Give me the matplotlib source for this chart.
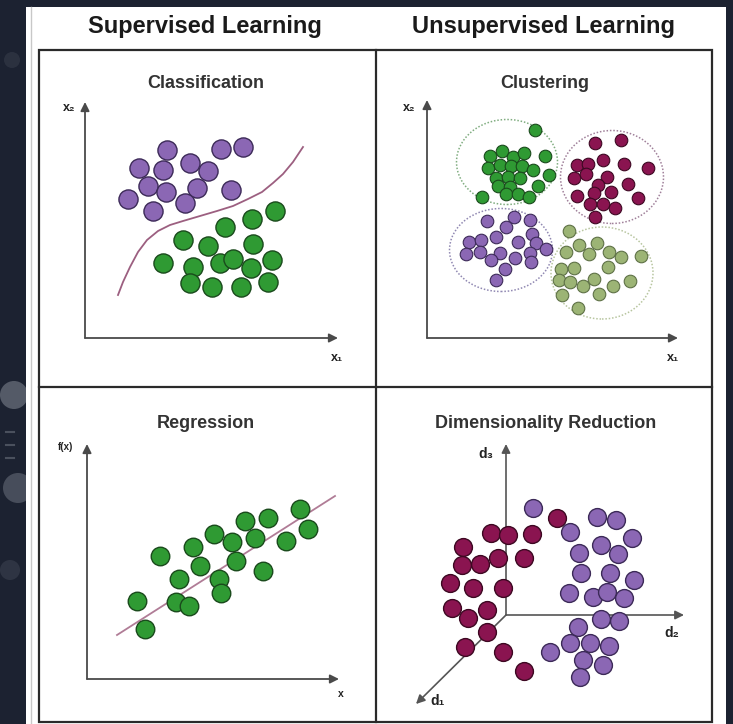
import matplotlib
matplotlib.use('Agg')
import matplotlib.pyplot as plt
from matplotlib.patches import Rectangle, Ellipse, Circle

W, H = 733, 724
DPI = 100

# ---------------- data (units = pixels from each panel's axis origin) ----------------
headers = ["Supervised Learning", "Unsupervised Learning"]
panel_titles = ["Classification", "Clustering", "Regression", "Dimensionality Reduction"]

cls_purple_x = [82, 136, 158, 54, 78, 105, 123, 63, 81, 112, 146, 43, 68, 100]
cls_purple_y = [188, 189, 191, 170, 168, 175, 167, 152, 146, 150, 148, 139, 127, 135]
cls_green_x = [190, 167, 140, 98, 123, 168, 78, 108, 135, 148, 166, 187, 105, 127, 156, 183]
cls_green_y = [127, 119, 111, 98, 92, 94, 75, 71, 75, 79, 70, 78, 55, 51, 51, 56]
cls_boundary_x = [33, 38, 45, 53, 62, 73, 85, 98, 115, 132, 148, 163, 177, 188, 198, 208, 218]
cls_boundary_y = [43, 56, 71, 86, 98, 107, 113, 117, 122, 127, 132, 139, 146, 155, 164, 176, 191]

clu_green_x = [108, 63, 75, 86, 97, 118, 61, 73, 84, 95, 106, 122, 69, 81, 93, 111, 71, 83, 55, 79, 91, 102]
clu_green_y = [208, 182, 187, 181, 185, 182, 170, 173, 172, 172, 168, 163, 160, 161, 160, 152, 152, 151, 141, 144, 144, 141]
clu_maroon_x = [168, 194, 150, 161, 176, 197, 221, 147, 159, 180, 171, 201, 150, 167, 184, 211, 163, 176, 188, 168]
clu_maroon_y = [195, 198, 173, 174, 178, 174, 170, 160, 164, 161, 153, 154, 142, 145, 146, 140, 134, 134, 130, 121]
clu_purple_x = [60, 87, 103, 79, 105, 42, 54, 69, 91, 109, 119, 39, 53, 73, 88, 103, 64, 104, 78, 69]
clu_purple_y = [117, 121, 118, 111, 104, 96, 98, 101, 96, 95, 89, 84, 86, 85, 80, 85, 78, 76, 69, 58]
clu_olive_x = [142, 152, 170, 139, 162, 182, 194, 214, 134, 147, 181, 132, 143, 156, 167, 186, 203, 135, 172, 151]
clu_olive_y = [107, 93, 95, 86, 84, 86, 81, 82, 69, 70, 71, 58, 56, 52, 59, 52, 57, 43, 44, 30]
clu_ellipse_cx = [80, 185, 74, 175]
clu_ellipse_cy = [176, 161, 88, 65]
clu_ellipse_w = [101, 103, 103, 102]
clu_ellipse_h = [85, 93, 83, 92]

reg_x = [73, 50, 58, 92, 89, 102, 106, 113, 127, 132, 134, 145, 149, 158, 168, 181, 176, 199, 213, 221]
reg_y = [123, 78, 50, 100, 77, 73, 132, 113, 145, 100, 86, 137, 118, 158, 141, 161, 108, 138, 170, 150]
reg_line_x = [30, 248]
reg_line_y = [44, 183]

dim_maroon_x = [51, -15, 2, 26, -43, -8, 18, -44, -26, -56, -33, -3, -54, -38, -19, -19, -41, -3, 18]
dim_maroon_y = [97, 82, 80, 81, 68, 57, 57, 50, 51, 32, 27, 27, 7, -3, 5, -17, -32, -37, -56]
dim_purple_x = [27, 91, 110, 64, 126, 73, 95, 112, 75, 104, 128, 63, 87, 101, 118, 72, 95, 113, 64, 84, 103, 44, 77, 97, 74]
dim_purple_y = [107, 98, 95, 83, 77, 62, 70, 61, 42, 42, 35, 22, 18, 23, 17, -12, -4, -6, -28, -28, -31, -37, -45, -50, -62]

# ---------------- styles ----------------
PURPLE, PURPLE_E = '#8b67b4', '#3c2a58'
GREEN, GREEN_E = '#2f9a33', '#1a4a1c'
MAROON, MAROON_E = '#8a1450', '#3d0822'
OLIVE, OLIVE_E = '#9cb475', '#5e7146'
AXC = '#4a4a4a'
FONT = ['Liberation Sans', 'DejaVu Sans']

fig = plt.figure(figsize=(W / DPI, H / DPI), dpi=DPI)
fig.patch.set_facecolor('#1c2231')

base = fig.add_axes([0, 0, 1, 1])
base.set_xlim(0, W)
base.set_ylim(H, 0)
base.axis('off')

# background bokeh
for (cx, cy, r, a) in [(14, 395, 14, 0.45), (18, 488, 15, 0.35), (10, 570, 10, 0.15), (12, 60, 8, 0.12)]:
    base.add_patch(Circle((cx, cy), r, color='#9aa0aa', alpha=a, lw=0))
for yy in [432, 445, 458]:
    base.plot([6, 14], [yy, yy], color='#6a707c', lw=1.5, alpha=0.6)

# white sheet
base.add_patch(Rectangle((26, 7), 700, 720, facecolor='white', edgecolor='none'))
base.plot([31, 31], [7, 724], color='#c8c8c8', lw=1.0)

# grid
base.add_patch(Rectangle((39, 50), 673, 672, facecolor='none', edgecolor='#2a2a2a', lw=1.6))
base.plot([376, 376], [50, 722], color='#2a2a2a', lw=1.6)
base.plot([39, 712], [387, 387], color='#2a2a2a', lw=1.6)

base.text(205, 26, headers[0], ha='center', va='center', fontsize=17, fontweight='bold',
          family=FONT, color='#1a1a1a')
base.text(543, 26, headers[1], ha='center', va='center', fontsize=17, fontweight='bold',
          family=FONT, color='#1a1a1a')

title_pos = [(206, 83), (545, 83), (206, 424), (546, 424)]
for t, (tx, ty) in zip(panel_titles, title_pos):
    base.text(tx, ty, t, ha='center', va='center', fontsize=13, fontweight='bold',
              family=FONT, color='#333333')

# axis labels
lab = dict(ha='center', va='center', fontweight='bold', family=FONT, color='#222222')
base.text(69, 108, 'x₂', fontsize=9, **lab)
base.text(337, 358, 'x₁', fontsize=9, **lab)
base.text(409, 108, 'x₂', fontsize=9, **lab)
base.text(673, 358, 'x₁', fontsize=9, **lab)
base.text(66, 447, 'f(x)', fontsize=7, **lab)
base.text(341, 694, 'x', fontsize=7.5, **lab)
base.text(486, 454, 'd₃', fontsize=10, **lab)
base.text(672, 633, 'd₂', fontsize=10, **lab)
base.text(438, 701, 'd₁', fontsize=10, **lab)


def make_panel(cell, origin):
    x0, y0, x1, y1 = cell
    ox, oy = origin
    ax = fig.add_axes([x0 / W, 1 - y1 / H, (x1 - x0) / W, (y1 - y0) / H])
    ax.set_xlim(x0 - ox, x1 - ox)
    ax.set_ylim(oy - y1, oy - y0)
    ax.axis('off')
    return ax


def arrow(ax, start, end, color=AXC, lw=1.3):
    ax.annotate('', xy=end, xytext=start,
                arrowprops=dict(arrowstyle='-|>', color=color, lw=lw,
                                mutation_scale=13, shrinkA=0, shrinkB=0), zorder=1)


# ---- Classification ----
ax1 = make_panel((39, 50, 376, 387), (85, 338))
arrow(ax1, (0, 0), (253, 0))
arrow(ax1, (0, 0), (0, 236))
ax1.plot(cls_boundary_x, cls_boundary_y, color='#9c5f80', lw=1.3, zorder=2)
ax1.scatter(cls_purple_x, cls_purple_y, s=190, c=PURPLE, edgecolors=PURPLE_E, linewidths=1, zorder=3)
ax1.scatter(cls_green_x, cls_green_y, s=190, c=GREEN, edgecolors=GREEN_E, linewidths=1, zorder=3)

# ---- Clustering ----
ax2 = make_panel((376, 50, 712, 387), (427, 338))
arrow(ax2, (0, 0), (251, 0))
arrow(ax2, (0, 0), (0, 238))
ell_colors = ['#80ad80', '#a0809a', '#9088b2', '#b8c6a0']
for cx, cy, w, h, ec in zip(clu_ellipse_cx, clu_ellipse_cy, clu_ellipse_w, clu_ellipse_h, ell_colors):
    ax2.add_patch(Ellipse((cx, cy), w, h, facecolor='none', edgecolor=ec, lw=1.1,
                          linestyle=(0, (1, 1.2)), zorder=2))
for xs, ys, c, e in [(clu_green_x, clu_green_y, GREEN, GREEN_E),
                     (clu_maroon_x, clu_maroon_y, MAROON, MAROON_E),
                     (clu_purple_x, clu_purple_y, PURPLE, PURPLE_E),
                     (clu_olive_x, clu_olive_y, OLIVE, OLIVE_E)]:
    ax2.scatter(xs, ys, s=82, c=c, edgecolors=e, linewidths=0.8, zorder=3)

# ---- Regression ----
ax3 = make_panel((39, 387, 376, 722), (87, 679))
arrow(ax3, (0, 0), (252, 0))
arrow(ax3, (0, 0), (0, 235))
ax3.plot(reg_line_x, reg_line_y, color='#b07c96', lw=1.3, zorder=2)
ax3.scatter(reg_x, reg_y, s=178, c=GREEN, edgecolors=GREEN_E, linewidths=1, zorder=3)

# ---- Dimensionality Reduction ----
ax4 = make_panel((376, 387, 712, 722), (506, 615))
arrow(ax4, (0, 0), (178, 0), color='#555555', lw=1.2)
arrow(ax4, (0, 0), (0, 171), color='#555555', lw=1.2)
arrow(ax4, (0, 0), (-90, -89), color='#555555', lw=1.2)
ax4.scatter(dim_maroon_x, dim_maroon_y, s=165, c=MAROON, edgecolors=MAROON_E, linewidths=1, zorder=3)
ax4.scatter(dim_purple_x, dim_purple_y, s=165, c=PURPLE, edgecolors=PURPLE_E, linewidths=1, zorder=3)

fig.savefig('out.png', dpi=DPI, facecolor=fig.get_facecolor())
